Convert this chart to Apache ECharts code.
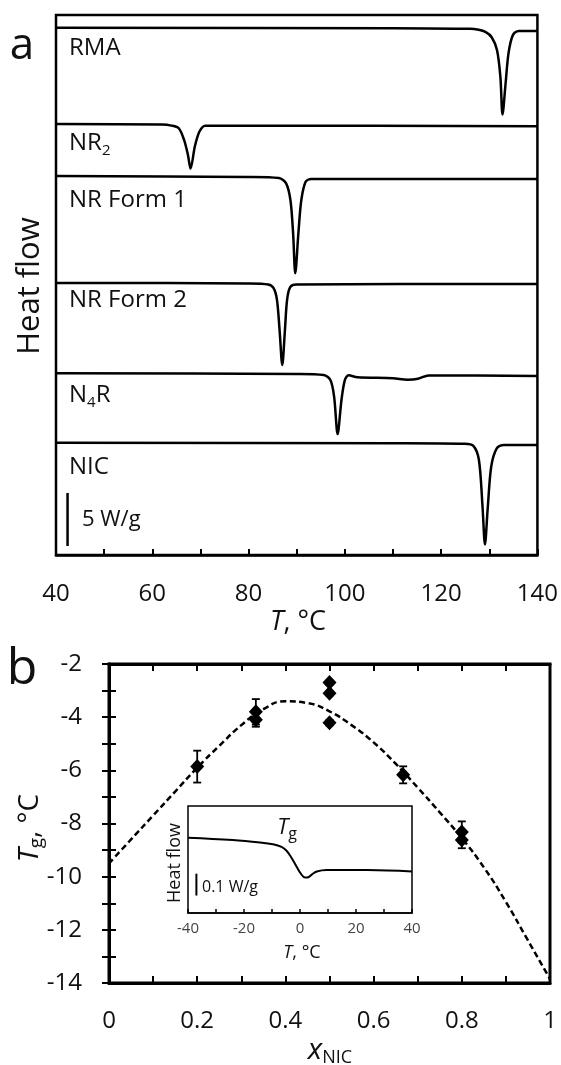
<!DOCTYPE html>
<html>
<head>
<meta charset="utf-8">
<script src="https://cdn.jsdelivr.net/npm/echarts@6/dist/echarts.min.js"></script>
<style>
  html, body { margin: 0; padding: 0; background: #fff; }
  #main { width: 561px; height: 1065px; }
</style>
</head>
<body>
<div id="main"></div>
<script>
// panel a: DSC traces, [T in °C, heat flow in W/g with stacking offset]
const rmaCurve = [[40,49.8],[110,49.76],[126,49.7],[127.8,49.6],[129.2,49.4],[130.5,48.9],[131.6,47.7],[132.3,45.2],[132.75,41.6],[133.4,44.6],[134,47.4],[134.9,49.1],[136.1,49.5],[140,49.5]];
const nr2Curve = [[40,40.7],[62,40.65],[64,40.55],[65.5,40.3],[66.6,39.2],[67.4,37.8],[67.95,36.5],[68.85,38.6],[69.8,40.0],[71,40.55],[80,40.55],[140,40.5]];
const nrForm1Curve = [[40,35.8],[80,35.7],[86.3,35.6],[87.8,35.1],[88.7,33.5],[89.25,30.4],[89.7,26.6],[90.35,30.4],[90.95,33.5],[91.85,35.25],[93,35.5],[140,35.5]];
const nrForm2Curve = [[40,25.7],[80,25.65],[84.1,25.55],[85.2,25.2],[85.9,24.1],[86.45,21.2],[87,17.94],[87.55,21.2],[88,24.1],[88.65,25.3],[89.9,25.55],[140,25.6]];
const n4rCurve = [[40,17.16],[90,17.1],[95.6,17.0],[97.0,16.52],[97.77,14.95],[98.5,11.43],[99.3,14.64],[100.0,16.52],[100.8,16.97],[102.6,16.78],[110,16.7],[113,16.56],[115.2,16.65],[117.4,16.96],[140,16.9]];
const nicCurve = [[40,10.6],[110,10.55],[124.9,10.5],[126.7,10.3],[127.85,8.97],[128.6,4.56],[129.1,1.0],[129.7,4.56],[130.4,8.34],[131.55,10.07],[133,10.39],[140,10.39]];
const scaleBarA = [[42.4, 0.85], [42.4, 5.85]];   // 5 W/g

// panel b: Tg vs x_NIC
const xNic = [0.2, 0.333, 0.333, 0.5, 0.5, 0.5, 0.667, 0.8, 0.8];
const tgMean = [-5.86, -3.8, -4.1, -2.7, -3.1, -4.21, -6.17, -8.32, -8.62];
const tgErr = [0.6, 0.48, 0.26, 0.08, 0.08, 0.1, 0.32, 0.4, 0.31];
const fitX = [0, 0.05, 0.1, 0.15, 0.2, 0.25, 0.3, 0.35, 0.4, 0.45, 0.5, 0.55, 0.6, 0.65, 0.7, 0.75, 0.8, 0.85, 0.9, 0.95, 1];
const fitTg = [-9.5, -8.6, -7.7, -6.8, -5.9, -5.08, -4.3, -3.7, -3.4, -3.47, -3.78, -4.3, -4.95, -5.75, -6.65, -7.58, -8.55, -9.65, -10.95, -12.4, -13.85];

// inset: glass transition trace
const insetT = [-40, -24, -14.3, -9.7, -6.6, -4.8, -3.0, -1.2, 0.36, 1.8, 3.0, 4.2, 6.0, 9.5, 24, 40];
const insetHf = [0.345, 0.334, 0.323, 0.315, 0.303, 0.285, 0.252, 0.212, 0.179, 0.162, 0.164, 0.176, 0.19, 0.197, 0.197, 0.19];
const scaleBarInset = [[-37, 0.08], [-37, 0.18]];  // 0.1 W/g

const FONT = 'Open Sans';
const INK = '#111';

let chart = echarts.init(document.getElementById('main'));

function trace(data, xi, yi, w) {
  return {
    type: 'line', xAxisIndex: xi, yAxisIndex: yi, data: data,
    showSymbol: false, smooth: 0.3,
    lineStyle: { color: '#000', width: w }, silent: true
  };
}

function txt(x, y, text, size, opts) {
  opts = opts || {};
  return {
    type: 'text', x: x, y: y, rotation: opts.rot || 0, z: 100,
    style: {
      text: text, fill: INK,
      font: (opts.italic ? 'italic ' : '') + size + 'px "' + FONT + '"',
      align: opts.align || 'left', verticalAlign: 'middle',
      textAlign: opts.align || 'left', textVerticalAlign: 'middle',
      rich: opts.rich
    }
  };
}

const subRich = function (base, sub, shift) {
  return {
    it: { fontFamily: FONT, fontSize: base, fontStyle: 'italic', color: INK },
    n: { fontFamily: FONT, fontSize: base, color: INK },
    s: { fontFamily: FONT, fontSize: sub, color: INK, padding: [shift, 0, 0, 0] }
  };
};

const tickStyle = function (w) { return { color: '#000', width: w }; };

chart.setOption({
  animation: false,
  backgroundColor: '#fff',
  grid: [
    { left: 56, top: 15, width: 483, height: 540, show: true, borderColor: '#000', borderWidth: 2.5 },
    { left: 109, top: 664, width: 441, height: 319, show: true, borderColor: '#000', borderWidth: 3 },
    { left: 188, top: 806, width: 224, height: 107, show: true, borderColor: '#000', borderWidth: 1.5, backgroundColor: '#fff' }
  ],
  xAxis: [
    {
      gridIndex: 0, type: 'value', min: 40, max: 140, interval: 20,
      axisLine: { show: true, lineStyle: tickStyle(2.5) },
      axisTick: { inside: true, length: 6, lineStyle: tickStyle(2) },
      minorTick: { show: true, splitNumber: 2, length: 6, lineStyle: tickStyle(2) },
      axisLabel: { margin: 27, fontSize: 24, fontFamily: FONT, color: INK },
      splitLine: { show: false }
    },
    {
      gridIndex: 1, type: 'value', min: 0, max: 1, interval: 0.2,
      axisLine: { show: true, lineStyle: tickStyle(3) },
      axisTick: { inside: true, length: 7, lineStyle: tickStyle(2) },
      minorTick: { show: true, splitNumber: 2, length: 7, lineStyle: tickStyle(2) },
      axisLabel: { margin: 26, fontSize: 24, fontFamily: FONT, color: INK },
      splitLine: { show: false }
    },
    {
      gridIndex: 1, type: 'value', position: 'top', min: 0, max: 1, interval: 0.2,
      axisLine: { show: true, lineStyle: tickStyle(3) },
      axisTick: { inside: true, length: 7, lineStyle: tickStyle(2) },
      minorTick: { show: true, splitNumber: 2, length: 7, lineStyle: tickStyle(2) },
      axisLabel: { show: false }, splitLine: { show: false }
    },
    {
      gridIndex: 2, type: 'value', min: -40, max: 40, interval: 20,
      axisLine: { show: true, lineStyle: tickStyle(1.5) },
      axisTick: { inside: true, length: 4, lineStyle: tickStyle(1.5) },
      minorTick: { show: true, splitNumber: 2, length: 4, lineStyle: tickStyle(1.5) },
      axisLabel: { margin: 8, fontSize: 15, fontFamily: FONT, color: '#444' },
      splitLine: { show: false }
    }
  ],
  yAxis: [
    {
      gridIndex: 0, type: 'value', min: 0, max: 51,
      axisLine: { show: false }, axisTick: { show: false }, axisLabel: { show: false }, splitLine: { show: false }
    },
    {
      gridIndex: 1, type: 'value', min: -14, max: -2, interval: 2,
      axisLine: { show: true, lineStyle: tickStyle(3) },
      axisTick: { inside: true, length: 7, lineStyle: tickStyle(2) },
      minorTick: { show: true, splitNumber: 2, length: 7, lineStyle: tickStyle(2) },
      axisLabel: { margin: 27, fontSize: 24, fontFamily: FONT, color: INK },
      splitLine: { show: false }
    },
    {
      gridIndex: 1, type: 'value', position: 'right', min: -14, max: -2, interval: 2,
      axisLine: { show: true, lineStyle: tickStyle(3) },
      axisTick: { inside: true, length: 7, lineStyle: tickStyle(2) },
      minorTick: { show: true, splitNumber: 2, length: 7, lineStyle: tickStyle(2) },
      axisLabel: { show: false }, splitLine: { show: false }
    },
    {
      gridIndex: 2, type: 'value', min: 0, max: 0.49,
      axisLine: { show: false }, axisTick: { show: false }, axisLabel: { show: false }, splitLine: { show: false }
    }
  ],
  series: [
    trace(rmaCurve, 0, 0, 2.5),
    trace(nr2Curve, 0, 0, 2.5),
    trace(nrForm1Curve, 0, 0, 2.5),
    trace(nrForm2Curve, 0, 0, 2.5),
    trace(n4rCurve, 0, 0, 2.5),
    trace(nicCurve, 0, 0, 2.5),
    { type: 'line', xAxisIndex: 0, yAxisIndex: 0, data: scaleBarA, showSymbol: false,
      lineStyle: { color: '#000', width: 2.5 }, silent: true },
    // fitted curve
    { type: 'line', xAxisIndex: 1, yAxisIndex: 1, data: fitX.map((x, i) => [x, fitTg[i]]),
      showSymbol: false, smooth: 0.5, lineStyle: { color: '#000', width: 2.5, type: [6, 3.5] }, silent: true },
    // error bars
    {
      type: 'custom', xAxisIndex: 1, yAxisIndex: 1,
      data: xNic.map((x, i) => [x, tgMean[i] + tgErr[i], tgMean[i] - tgErr[i]]),
      renderItem: function (params, api) {
        const top = api.coord([api.value(0), api.value(1)]);
        const bot = api.coord([api.value(0), api.value(2)]);
        const hw = 4;
        const st = { stroke: '#000', lineWidth: 1.8 };
        return {
          type: 'group', children: [
            { type: 'line', shape: { x1: top[0], y1: top[1], x2: bot[0], y2: bot[1] }, style: st },
            { type: 'line', shape: { x1: top[0] - hw, y1: top[1], x2: top[0] + hw, y2: top[1] }, style: st },
            { type: 'line', shape: { x1: bot[0] - hw, y1: bot[1], x2: bot[0] + hw, y2: bot[1] }, style: st }
          ]
        };
      },
      silent: true, z: 3
    },
    { type: 'scatter', xAxisIndex: 1, yAxisIndex: 1, data: xNic.map((x, i) => [x, tgMean[i]]),
      symbol: 'diamond', symbolSize: [14, 15], itemStyle: { color: '#000', opacity: 1 }, silent: true, z: 4 },
    // inset
    { type: 'line', xAxisIndex: 3, yAxisIndex: 3, data: insetT.map((t, i) => [t, insetHf[i]]),
      showSymbol: false, smooth: 0.4, lineStyle: { color: '#000', width: 2 }, silent: true },
    { type: 'line', xAxisIndex: 3, yAxisIndex: 3, data: scaleBarInset, showSymbol: false,
      lineStyle: { color: '#000', width: 2 }, silent: true }
  ],
  graphic: [
    txt(22, 46, 'a', 44, { align: 'center' }),
    txt(30, 286, 'Heat flow', 31, { align: 'center', rot: Math.PI / 2 }),
    txt(298, 622, '{it|T}{n|, °C}', 27, { align: 'center', rich: subRich(27, 18, 0) }),
    txt(69, 48, 'RMA', 24),
    txt(69, 143, '{n|NR}{s|2}', 24, { rich: subRich(24, 15, 15) }),
    txt(69, 200, 'NR Form 1', 24),
    txt(69, 300, 'NR Form 2', 24),
    txt(69, 395, '{n|N}{s|4}{n|R}', 24, { rich: subRich(24, 15, 15) }),
    txt(69, 467, 'NIC', 24),
    txt(82, 520, '5 W/g', 22),
    txt(22, 670, 'b', 50, { align: 'center' }),
    txt(30, 828, '{it|T}{s|g}{n|, °C}', 28, { align: 'center', rot: Math.PI / 2, rich: subRich(28, 19, 14) }),
    txt(330, 1050, '{it|x}{s|NIC}', 28, { align: 'center', rich: subRich(30, 18, 16) }),
    txt(175, 863, 'Heat flow', 18, { align: 'center', rot: Math.PI / 2 }),
    txt(287, 828, '{it|T}{s|g}', 20, { align: 'center', rich: subRich(22, 16, 12) }),
    txt(202, 887, '0.1 W/g', 16),
    txt(302, 953, '{it|T}{n|, °C}', 18, { align: 'center', rich: subRich(18, 18, 0) })
  ]
});
</script>
</body>
</html>
